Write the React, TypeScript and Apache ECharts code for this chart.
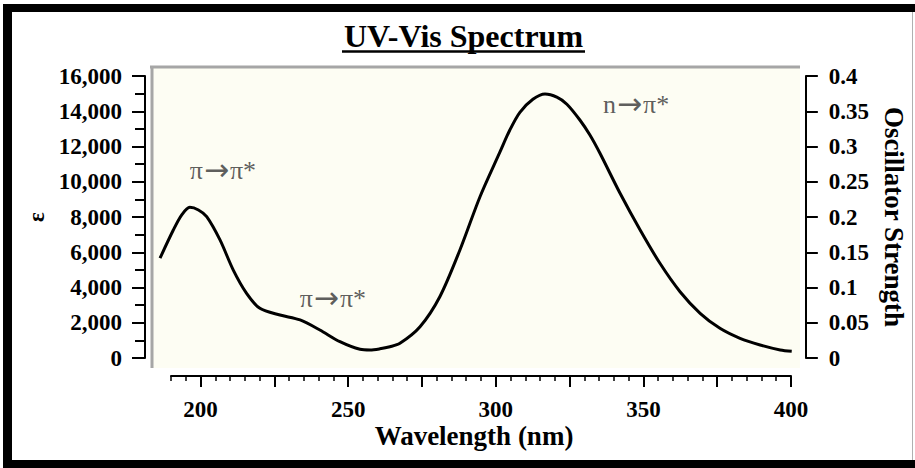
import React, { useEffect, useRef } from "react";
import * as echarts from "echarts";

// Spectrum (wavelength in nm, molar absorptivity ε)
const wavelengths = [
  186.3, 190.8, 193.6, 196.4, 199.3, 202.1, 206.6, 211.1, 215.6, 220.1, 226.9, 233.7,
  240.4, 247.2, 254.0, 257.4, 260.7, 264.1, 267.5, 274.3, 281.0, 287.8, 294.6, 301.4,
  304.7, 308.1, 312.5, 316.6, 320.6, 324.0, 328.4, 331.8, 335.2, 342.0, 348.8, 355.5,
  362.3, 369.1, 375.8, 382.6, 389.4, 396.2, 400.1,
];
const epsilon = [
  5660, 7260, 8110, 8550, 8400, 8020, 6700, 4990, 3670, 2820, 2440, 2160,
  1590, 925, 494, 454, 520, 640, 834, 1776, 3478, 6128, 9152, 11705,
  12936, 13940, 14678, 14979, 14800, 14400, 13504, 12650, 11614, 9345, 7262, 5373,
  3762, 2536, 1685, 1118, 738, 454, 380,
];

// Transition annotations (placed in data coordinates)
const annotationLabels = ["π→π*", "π→π*", "n→π*"];
const annotationWavelengths = [207.6, 244.8, 347.4];
const annotationEpsilon = [10640, 3400, 14360];

// Axis ticks
const xMinorInterval = 5;
const xMajorInterval = 25;
const xLabelStep = 50;

const FONT = "'Liberation Serif', 'Times New Roman', serif";

export default function App() {
  const ref = useRef<HTMLDivElement>(null);

  useEffect(() => {
    document.body.style.margin = "0";
    const chart = echarts.init(ref.current as HTMLDivElement, null, { renderer: "svg" });

    const lineData = wavelengths.map((w, i) => [w, epsilon[i]]);
    const annData = annotationLabels.map((t, i) => ({
      value: [annotationWavelengths[i], annotationEpsilon[i]],
      name: t,
    }));
    const richLabel = (s: string) =>
      s
        .split("→")
        .map((part) => `{p|${part}}`)
        .join("{a|→}");

    const tickLabelStyle = {
      fontFamily: FONT,
      fontSize: 23,
      fontWeight: "bold" as const,
      color: "#000",
    };
    const blackLine = { color: "#000", width: 2 };

    const option: any = {
      animation: false,
      backgroundColor: "#ffffff",
      title: {
        text: "UV-Vis Spectrum",
        left: 458.5,
        textAlign: "center",
        top: 15,
        textStyle: { fontFamily: FONT, fontSize: 32, fontWeight: "bold", color: "#000" },
      },
      grid: [
        { left: 151, top: 66, width: 649, height: 302, show: true, backgroundColor: "#fdfdf3", borderWidth: 0 },
        { left: 145, top: 76, width: 662, height: 282, show: false },
        { left: 171, top: 300, width: 620, height: 76, show: false },
        { left: 200.5, top: 300, width: 590.5, height: 76, show: false },
      ],
      xAxis: [
        { gridIndex: 0, type: "value", min: 183.25, max: 402.9, show: false },
        { gridIndex: 1, type: "value", min: 0, max: 1, show: false },
        {
          gridIndex: 2, type: "value", min: 190, max: 400, interval: xMinorInterval, position: "bottom",
          axisLine: { show: true, lineStyle: blackLine },
          axisTick: { show: true, length: 5, lineStyle: { color: "#000", width: 1.5 } },
          axisLabel: { show: false },
          splitLine: { show: false },
          name: "Wavelength (nm)",
          nameLocation: "middle",
          nameGap: 46,
          nameTextStyle: { fontFamily: FONT, fontSize: 27, fontWeight: "bold", color: "#000", padding: [0, 14, 0, 0] },
        },
        {
          gridIndex: 3, type: "value", min: 200, max: 400, interval: xMajorInterval, position: "bottom",
          axisLine: { show: false },
          axisTick: { show: true, length: 11, lineStyle: { color: "#000", width: 2 } },
          axisLabel: {
            show: true,
            margin: 22,
            formatter: (v: number) => (v % xLabelStep === 0 ? String(v) : ""),
            ...tickLabelStyle,
          },
          splitLine: { show: false },
        },
      ],
      yAxis: [
        { gridIndex: 0, type: "value", min: -567, max: 16567, show: false },
        {
          gridIndex: 1, type: "value", position: "left", min: 0, max: 16000, interval: 2000,
          axisLine: { show: true, lineStyle: blackLine },
          axisTick: { show: true, length: 13, lineStyle: { color: "#000", width: 2 } },
          minorTick: { show: true, splitNumber: 2, length: 10, lineStyle: { color: "#000", width: 2 } },
          splitLine: { show: false },
          minorSplitLine: { show: false },
          axisLabel: {
            margin: 23,
            formatter: (v: number) => v.toLocaleString("en-US"),
            ...tickLabelStyle,
          },
          name: "ε",
          nameLocation: "middle",
          nameGap: 94,
          nameTextStyle: { fontFamily: FONT, fontSize: 23, fontWeight: "bold", color: "#000" },
        },
        {
          gridIndex: 1, type: "value", position: "right", min: 0, max: 0.4, interval: 0.05,
          axisLine: { show: true, lineStyle: blackLine },
          axisTick: { show: true, length: 12, lineStyle: { color: "#000", width: 2 } },
          splitLine: { show: false },
          axisLabel: { margin: 23, ...tickLabelStyle },
          name: "Oscillator Strength",
          nameLocation: "middle",
          nameRotate: -90,
          nameGap: 64,
          nameTextStyle: { fontFamily: FONT, fontSize: 27, fontWeight: "bold", color: "#000" },
        },
        { gridIndex: 2, type: "value", min: 0, max: 1, show: false },
        { gridIndex: 3, type: "value", min: 0, max: 1, show: false },
      ],
      series: [
        {
          type: "line",
          xAxisIndex: 0,
          yAxisIndex: 0,
          data: lineData,
          smooth: 0.3,
          showSymbol: false,
          symbol: "none",
          lineStyle: { color: "#000", width: 3 },
          silent: true,
          z: 5,
        },
        {
          type: "scatter",
          xAxisIndex: 0,
          yAxisIndex: 0,
          data: annData,
          symbolSize: 1,
          itemStyle: { color: "rgba(0,0,0,0)" },
          silent: true,
          label: {
            show: true,
            position: "inside",
            formatter: (p: any) => richLabel(p.name),
            rich: {
              p: { fontFamily: FONT, fontSize: 26, color: "#333" },
              a: { fontFamily: "'DejaVu Sans'", fontSize: 30, color: "#333", padding: [0, 1, 2, 1] },
            },
          },
          z: 6,
        },
      ],
      graphic: [
        { type: "line", z: 50, shape: { x1: 150, y1: 67, x2: 800, y2: 67 }, style: { stroke: "#a6a6a6", lineWidth: 3 } },
        { type: "line", z: 50, shape: { x1: 152, y1: 66, x2: 152, y2: 368 }, style: { stroke: "#a6a6a6", lineWidth: 3 } },
        { type: "line", z: 50, shape: { x1: 342, y1: 51.5, x2: 585, y2: 51.5 }, style: { stroke: "#000", lineWidth: 2.5 } },
        { type: "rect", z: 60, shape: { x: 3, y: 4, width: 912, height: 8 }, style: { fill: "#000" } },
        { type: "rect", z: 60, shape: { x: 3, y: 4, width: 9, height: 464 }, style: { fill: "#000" } },
        { type: "rect", z: 60, shape: { x: 3, y: 460, width: 912, height: 8 }, style: { fill: "#000" } },
        { type: "line", z: 60, shape: { x1: 912.5, y1: 12, x2: 912.5, y2: 460 }, style: { stroke: "#b0b0b0", lineWidth: 1 } },
      ],
    };

    chart.setOption(option);
    return () => chart.dispose();
  }, []);

  return <div ref={ref} style={{ width: 915, height: 468 }} />;
}
